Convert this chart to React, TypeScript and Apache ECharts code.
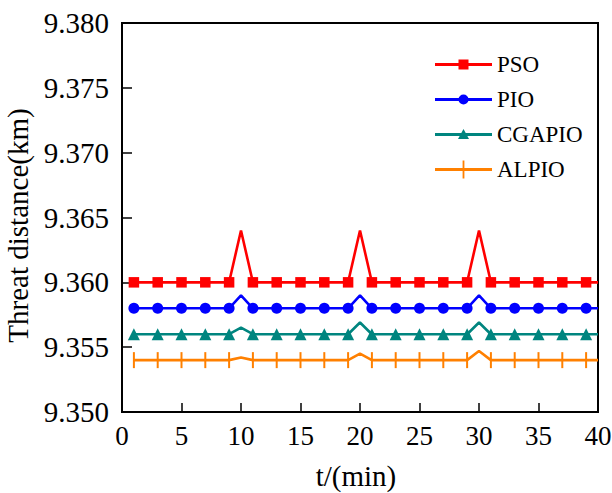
import React, { useEffect, useRef } from "react";
import * as echarts from "echarts";

const timeMin = [1, 2, 3, 4, 5, 6, 7, 8, 9, 10, 11, 12, 13, 14, 15, 16, 17, 18, 19, 20, 21, 22, 23, 24, 25, 26, 27, 28, 29, 30, 31, 32, 33, 34, 35, 36, 37, 38, 39, 40];
const markerTimes = [1, 3, 5, 7, 9, 11, 13, 15, 17, 19, 21, 23, 25, 27, 29, 31, 33, 35, 37, 39];

const psoValues = [9.36, 9.36, 9.36, 9.36, 9.36, 9.36, 9.36, 9.36, 9.36, 9.364, 9.36, 9.36, 9.36, 9.36, 9.36, 9.36, 9.36, 9.36, 9.36, 9.364, 9.36, 9.36, 9.36, 9.36, 9.36, 9.36, 9.36, 9.36, 9.36, 9.364, 9.36, 9.36, 9.36, 9.36, 9.36, 9.36, 9.36, 9.36, 9.36, 9.36];
const pioValues = [9.358, 9.358, 9.358, 9.358, 9.358, 9.358, 9.358, 9.358, 9.358, 9.359, 9.358, 9.358, 9.358, 9.358, 9.358, 9.358, 9.358, 9.358, 9.358, 9.359, 9.358, 9.358, 9.358, 9.358, 9.358, 9.358, 9.358, 9.358, 9.358, 9.359, 9.358, 9.358, 9.358, 9.358, 9.358, 9.358, 9.358, 9.358, 9.358, 9.358];
const cgapioValues = [9.356, 9.356, 9.356, 9.356, 9.356, 9.356, 9.356, 9.356, 9.356, 9.3565, 9.356, 9.356, 9.356, 9.356, 9.356, 9.356, 9.356, 9.356, 9.356, 9.3569, 9.356, 9.356, 9.356, 9.356, 9.356, 9.356, 9.356, 9.356, 9.356, 9.3569, 9.356, 9.356, 9.356, 9.356, 9.356, 9.356, 9.356, 9.356, 9.356, 9.356];
const alpioValues = [9.354, 9.354, 9.354, 9.354, 9.354, 9.354, 9.354, 9.354, 9.354, 9.3542, 9.354, 9.354, 9.354, 9.354, 9.354, 9.354, 9.354, 9.354, 9.354, 9.3545, 9.354, 9.354, 9.354, 9.354, 9.354, 9.354, 9.354, 9.354, 9.354, 9.3547, 9.354, 9.354, 9.354, 9.354, 9.354, 9.354, 9.354, 9.354, 9.354, 9.354];

const seriesNames = ["PSO", "PIO", "CGAPIO", "ALPIO"];
const seriesColors = ["#ff0000", "#0000ff", "#00857f", "#ff8000"];

const FONT = "Liberation Serif";

const anchors = "M0,0 L0.05,0 L0,0.05 Z M57,18 L56.95,18 L57,17.95 Z ";
const lineBar = "M0,7.6 L57,7.6 L57,10.4 L0,10.4 Z ";
const legendIcons = [
  "path://" + anchors + lineBar + "M23.5,4 L33.5,4 L33.5,14 L23.5,14 Z",
  "path://" + anchors + lineBar + "M33.5,9 A5,5 0 1,1 23.5,9 A5,5 0 1,1 33.5,9 Z",
  "path://" + anchors + lineBar + "M28.5,3.5 L34,13.5 L23,13.5 Z",
  "path://" + anchors + lineBar + "M27.6,0 L29.4,0 L29.4,18 L27.6,18 Z",
];

const symbols = ["rect", "circle", "triangle", "path://M0,0 L1,0 L1,10 L0,10 Z"];
const symbolSizes: any[] = [10.5, 11, 12, [2, 16]];

export default function App() {
  const ref = useRef<HTMLDivElement>(null);
  useEffect(() => {
    document.body.style.margin = "0";
    const chart = echarts.init(ref.current!, null, { renderer: "svg" });
    const allValues = [psoValues, pioValues, cgapioValues, alpioValues];
    const series = allValues.map((vals, si) => ({
      name: seriesNames[si],
      type: "line",
      data: timeMin.map((t, i) => {
        const item: any = { value: [t, vals[i]] };
        if (markerTimes.indexOf(t) < 0) item.symbol = "none";
        return item;
      }),
      symbol: symbols[si],
      symbolSize: symbolSizes[si],
      symbolKeepAspect: si === 3 ? false : true,
      showAllSymbol: true,
      color: seriesColors[si],
      lineStyle: { color: seriesColors[si], width: 2.6 },
      itemStyle: { color: seriesColors[si], borderWidth: 0 },
      z: 10 - si,
    }));
    chart.setOption({
      animation: false,
      backgroundColor: "#ffffff",
      grid: {
        left: 122,
        right: 14,
        top: 23,
        bottom: 81,
        containLabel: false,
        outerBoundsMode: "none",
        show: true,
        borderColor: "#000",
        borderWidth: 2,
        backgroundColor: "transparent",
      },
      legend: {
        orient: "vertical",
        left: 430,
        top: 48,
        itemWidth: 57,
        itemHeight: 18,
        itemGap: 12,
        itemStyle: { borderWidth: 0 },
        textStyle: { fontFamily: FONT, fontSize: 23, color: "#000", lineHeight: 18 },
        data: seriesNames.map((n, i) => ({ name: n, icon: legendIcons[i] })),
      },
      xAxis: {
        type: "value",
        min: 0,
        max: 40,
        interval: 5,
        name: "t/(min)",
        nameLocation: "middle",
        nameGap: 49,
        nameTextStyle: { fontFamily: FONT, fontSize: 29, lineHeight: 30, color: "#000", padding: [0, 8, 0, 0] },
        axisLine: { show: true, lineStyle: { color: "#000", width: 2 } },
        axisTick: { show: true, inside: true, length: 9, lineStyle: { color: "#000", width: 1.5 } },
        axisLabel: { fontFamily: FONT, fontSize: 27, color: "#000", margin: 10 },
        splitLine: { show: false },
      },
      yAxis: {
        type: "value",
        min: 9.35,
        max: 9.38,
        interval: 0.005,
        name: "Threat distance(km)",
        nameLocation: "middle",
        nameGap: 74,
        nameTextStyle: { fontFamily: FONT, fontSize: 29, color: "#000", padding: [0, 16, 0, 0] },
        axisLine: { show: true, lineStyle: { color: "#000", width: 2 } },
        axisTick: { show: true, inside: true, length: 10, lineStyle: { color: "#000", width: 1.5 } },
        axisLabel: {
          fontFamily: FONT,
          fontSize: 29,
          color: "#000",
          margin: 13,
          formatter: (v: number) => v.toFixed(3),
        },
        splitLine: { show: false },
      },
      series,
    });
    return () => chart.dispose();
  }, []);
  return <div ref={ref} style={{ width: 612, height: 493 }} />;
}
